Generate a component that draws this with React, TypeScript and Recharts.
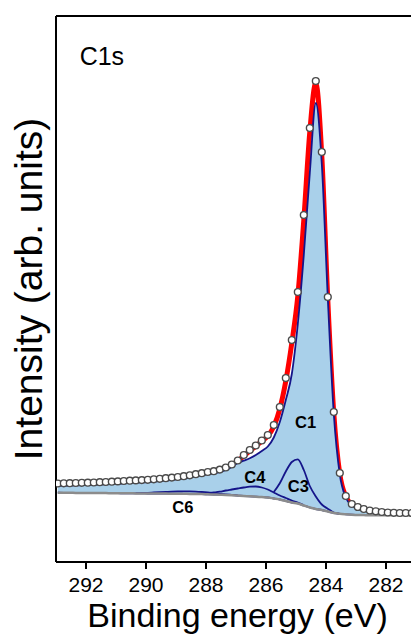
import React from 'react';
import { ComposedChart, Area, Line, XAxis, YAxis, ReferenceLine, ReferenceDot } from 'recharts';

// binding energy grid (eV), high to low
const energy = [
  292.94, 292.74, 292.54, 292.34, 292.14, 291.94, 291.74, 291.54, 291.34, 291.14,
  290.94, 290.74, 290.54, 290.34, 290.14, 289.94, 289.74, 289.54, 289.34, 289.14,
  288.94, 288.74, 288.54, 288.34, 288.14, 287.94, 287.74, 287.54, 287.34, 287.14,
  286.94, 286.74, 286.54, 286.34, 286.14, 285.94, 285.74, 285.54, 285.34, 285.14,
  284.94, 284.74, 284.54, 284.34, 284.14, 283.94, 283.74, 283.54, 283.34, 283.14,
  282.94, 282.74, 282.54, 282.34, 282.14, 281.94, 281.74, 281.54, 281.34, 281.14,
  280.94, 280.74, 280.54,
];

// open circles (measured spectrum)
const measured = [
  78.5, 78.7, 78.8, 79.0, 79.2, 79.3, 79.5, 79.8, 80.0, 80.3,
  80.6, 81.0, 81.3, 81.6, 81.9, 82.2, 82.7, 83.2, 83.8, 84.4,
  85.0, 85.8, 86.7, 87.8, 88.8, 90.0, 90.8, 92.4, 94.5, 97.5,
  101.5, 107.0, 112.0, 116.5, 121.5, 127.0, 137.0, 155.0, 184.0, 222.0,
  270.0, 347.0, 434.0, 481.0, 410.0, 265.0, 150.0, 89.0, 66.0, 58.0,
  55.0, 53.0, 51.5, 50.7, 50.0, 49.5, 49.2, 49.0, 49.0, 49.0,
  48.9, 48.9, 48.9,
];

// red fit envelope
const envelope = [
  78.2, 78.4, 78.5, 78.7, 78.9, 79.0, 79.2, 79.5, 79.7, 80.0,
  80.3, 80.7, 81.0, 81.3, 81.6, 81.9, 82.4, 82.9, 83.5, 84.1,
  84.7, 85.5, 86.4, 87.5, 88.5, 89.6, 90.5, 92.0, 94.0, 97.0,
  101.0, 106.0, 111.0, 115.8, 120.8, 126.0, 135.5, 153.0, 181.0, 219.0,
  266.0, 342.0, 430.0, 479.0, 406.0, 262.0, 148.5, 88.0, 65.5, 57.6,
  54.6, 52.7, 51.2, 50.4, 49.8, 49.3, 49.0, 48.8, 48.8, 48.8,
  48.7, 48.7, 48.7,
];

// C1 component (on top of background)
const c1 = [
  76.2, 76.4, 76.5, 76.7, 76.9, 77.0, 77.2, 77.5, 77.7, 78.0,
  78.3, 78.7, 79.0, 79.3, 79.6, 79.9, 80.4, 80.9, 81.5, 82.1,
  82.8, 83.6, 84.5, 85.6, 86.6, 87.8, 88.6, 90.2, 92.2, 95.0,
  99.0, 101.4, 103.7, 107.0, 111.0, 115.5, 124.5, 140.0, 162.0, 188.0,
  238.0, 307.0, 389.0, 459.0, 398.0, 264.0, 148.0, 87.5, 64.5, 56.5,
  53.5, 51.5, 50.0, 49.2, 48.6, 48.1, 47.8, 47.6, 47.4, 47.3,
  47.2, 47.1, 47.0,
];

// Shirley background (grey)
const background = [
  69.3, 69.2, 69.2, 69.1, 69.1, 69.0, 69.0, 68.9, 68.9, 68.8,
  68.8, 68.7, 68.7, 68.6, 68.6, 68.5, 68.5, 68.4, 68.4, 68.3,
  68.3, 68.2, 68.1, 68.0, 67.9, 67.7, 67.5, 67.3, 67.1, 66.8,
  66.4, 66.0, 65.7, 65.3, 64.9, 64.5, 63.5, 62.5, 61.0, 59.5,
  58.5, 56.5, 54.5, 53.0, 52.0, 50.5, 49.0, 48.2, 47.7, 47.3,
  47.0, 46.9, 46.8, 46.8, 46.8, 46.8, 46.8, 46.8, 46.8, 46.8,
  46.8, 46.8, 46.8,
];

const N = null;

const c3 = [
  N, N, N, N, N, N, N, N, N, N,
  N, N, N, N, N, N, N, N, N, N,
  N, N, N, N, N, N, N, N, N, N,
  N, N, N, N, N, N, 70.0, 78.7, 90.5, 100.0,
  102.7, 92.0, 76.0, 65.5, 57.5, 53.3, 49.5, 48.2, N, N,
  N, N, N, N, N, N, N, N, N, N,
  N, N, N,
];

const c4 = [
  N, N, N, N, N, N, N, N, N, N,
  N, N, N, N, N, N, N, N, N, N,
  N, N, N, N, 68.3, 68.8, 69.5, 70.3, 71.5, 72.5,
  73.5, 74.5, 75.3, 75.5, 74.5, 72.5, 69.5, 66.5, 64.0, 61.5,
  59.5, 57.0, N, N, N, N, N, N, N, N,
  N, N, N, N, N, N, N, N, N, N,
  N, N, N,
];

const c6 = [
  N, N, N, N, N, N, N, N, N, N,
  N, N, N, 68.8, 69.0, 69.2, 69.5, 69.8, 70.1, 70.4,
  70.6, 70.7, 70.6, 70.4, 70.0, 69.5, 68.9, 68.2, 67.6, 67.1,
  66.6, N, N, N, N, N, N, N, N, N,
  N, N, N, N, N, N, N, N, N, N,
  N, N, N, N, N, N, N, N, N, N,
  N, N, N,
];

const xTicks = [282, 284, 286, 288, 290, 292];

const peakLabels = [
  { name: 'C1', e: 284.68, y: 139.5 },
  { name: 'C4', e: 286.37, y: 84.5 },
  { name: 'C3', e: 284.92, y: 76 },
  { name: 'C6', e: 288.77, y: 54.5 },
];

const data = energy.map((e, i) => ({
  e,
  measured: measured[i],
  envelope: envelope[i],
  c1Band: [background[i], c1[i]],
  background: background[i],
  c3: c3[i],
  c4: c4[i],
  c6: c6[i],
}));

const NAVY = '#15158a';
const FONT = "'Liberation Sans', Arial, Helvetica, sans-serif";

const App: React.FC = () => {
  return (
    <div
      style={{
        position: 'absolute',
        left: 0,
        top: 0,
        width: 411,
        height: 636,
        overflow: 'hidden',
        background: '#fff',
        fontFamily: FONT,
      }}
    >
      <ComposedChart width={440} height={636} data={data} margin={{ top: 16, right: 9, bottom: 0, left: 0 }}>
        <XAxis
          dataKey="e"
          type="number"
          domain={[280.5, 293]}
          reversed
          allowDataOverflow
          ticks={xTicks}
          height={74}
          tickSize={7}
          tickMargin={8}
          tick={{ fontSize: 21, fill: '#000' }}
          tickLine={{ stroke: '#000', strokeWidth: 2 }}
          axisLine={{ stroke: '#000', strokeWidth: 2 }}
          label={{ value: 'Binding energy (eV)', position: 'insideBottom', offset: 9, dx: -6, fontSize: 34, fill: '#000' }}
        />
        <YAxis
          type="number"
          domain={[0, 546]}
          allowDataOverflow
          width={56}
          tick={false}
          tickLine={false}
          axisLine={{ stroke: '#000', strokeWidth: 2 }}
          label={{ value: 'Intensity (arb. units)', angle: -90, position: 'center', fontSize: 39, fill: '#000' }}
        />
        <ReferenceLine y={546} stroke="#000" strokeWidth={2} />

        <Area
          type="monotone"
          dataKey="envelope"
          stroke="#ff0000"
          strokeWidth={5}
          fill="none"
          dot={false}
          activeDot={false}
          isAnimationActive={false}
        />
        <Area
          type="monotone"
          dataKey="c1Band"
          stroke={NAVY}
          strokeWidth={1.8}
          fill="#a9d0ea"
          fillOpacity={1}
          dot={false}
          activeDot={false}
          isAnimationActive={false}
        />
        <Line type="monotone" dataKey="c3" stroke={NAVY} strokeWidth={1.8} dot={false} isAnimationActive={false} />
        <Line type="monotone" dataKey="c4" stroke={NAVY} strokeWidth={1.8} dot={false} isAnimationActive={false} />
        <Line type="monotone" dataKey="c6" stroke={NAVY} strokeWidth={1.8} dot={false} isAnimationActive={false} />
        <Line type="monotone" dataKey="background" stroke="#8c8c8c" strokeWidth={2.5} dot={false} isAnimationActive={false} />
        <Line
          dataKey="measured"
          stroke="none"
          dot={{ r: 3.4, fill: '#fff', stroke: '#4a4a4a', strokeWidth: 1.4 }}
          activeDot={false}
          isAnimationActive={false}
        />

        {peakLabels.map((p) => (
          <ReferenceDot
            key={p.name}
            x={p.e}
            y={p.y}
            r={0}
            fill="none"
            stroke="none"
            label={{ value: p.name, position: 'center', fontSize: 16.5, fontWeight: 700, fill: '#000' }}
          />
        ))}
        <ReferenceDot
          x={291.47}
          y={506}
          r={0}
          fill="none"
          stroke="none"
          label={{ value: 'C1s', position: 'center', fontSize: 25, fill: '#000' }}
        />
      </ComposedChart>
    </div>
  );
};

export default App;
